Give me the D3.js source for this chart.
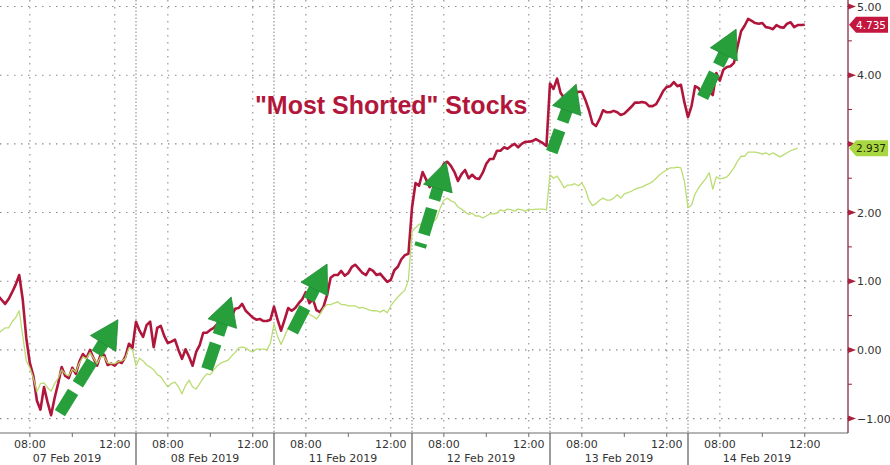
<!DOCTYPE html>
<html>
<head>
<meta charset="utf-8">
<script src="https://cdn.jsdelivr.net/npm/d3@7"></script>
<style>
  html, body { margin: 0; padding: 0; background: #fff; }
  svg { display: block; }
</style>
</head>
<body>
<svg id="chart" width="890" height="465"></svg>
<script>
// ---------------- DATA ----------------
const sessionDates = ["07 Feb 2019", "08 Feb 2019", "11 Feb 2019", "12 Feb 2019", "13 Feb 2019", "14 Feb 2019"];
const sessionOpen = "06:30";
const sessionClose = "13:00";
const barMinutes = 10;
const timeTickLabels = ["08:00", "12:00"];
const minorTimeTicks = ["10:00"];
const yTickValues = [-1, 0, 1, 2, 3, 4, 5];
const yMinorTickValues = [-0.5, 0.5, 1.5, 2.5, 3.5, 4.5];
const titleText = '"Most Shorted" Stocks';

// "Most Shorted" basket, 10-minute values per session
const shorted07 = [0.79, 0.73, 0.67, 0.74, 0.84, 0.95, 1.09, 0.73, 0.17, -0.19, -0.38, -0.74, -0.87, -0.54, -0.76, -0.95, -0.70, -0.49, -0.25, -0.38, -0.41, -0.26, -0.35, -0.17, -0.06, -0.12, 0.00, -0.12, -0.23, -0.07, -0.07, -0.22, -0.20, -0.23, -0.17, -0.19, -0.10, 0.09, 0.03];
const shorted08 = [0.41, 0.28, 0.19, 0.36, 0.41, 0.04, 0.32, 0.35, 0.20, 0.10, 0.12, 0.15, 0.00, -0.13, 0.01, -0.10, -0.23, -0.03, 0.07, 0.25, 0.25, 0.29, 0.32, 0.38, 0.36, 0.38, 0.38, 0.48, 0.60, 0.61, 0.67, 0.57, 0.52, 0.47, 0.44, 0.45, 0.42, 0.42, 0.44];
const shorted11 = [0.63, 0.44, 0.28, 0.44, 0.61, 0.57, 0.61, 0.68, 0.74, 0.84, 0.68, 0.74, 0.58, 0.55, 0.63, 0.80, 1.05, 1.09, 1.09, 1.15, 1.08, 1.12, 1.21, 1.24, 1.18, 1.12, 1.09, 1.18, 1.15, 1.09, 1.11, 1.05, 0.99, 1.02, 1.16, 1.21, 1.32, 1.38, 1.40];
const shorted12 = [2.07, 2.43, 2.39, 2.59, 2.48, 2.37, 2.47, 2.53, 2.59, 2.71, 2.74, 2.68, 2.59, 2.46, 2.56, 2.62, 2.50, 2.55, 2.50, 2.49, 2.58, 2.71, 2.78, 2.78, 2.90, 2.90, 2.95, 2.93, 2.97, 3.00, 2.95, 3.00, 3.03, 3.03, 3.04, 3.07, 3.04, 3.01, 2.97];
const shorted13 = [3.88, 3.80, 3.95, 3.74, 3.67, 3.70, 3.68, 3.71, 3.76, 3.76, 3.64, 3.49, 3.30, 3.26, 3.36, 3.49, 3.46, 3.46, 3.48, 3.46, 3.42, 3.44, 3.49, 3.54, 3.60, 3.60, 3.61, 3.60, 3.55, 3.55, 3.58, 3.67, 3.77, 3.83, 3.84, 3.90, 3.84, 3.86, 3.60];
const shorted14 = [3.39, 3.55, 3.84, 3.81, 3.73, 3.86, 3.76, 3.71, 4.03, 3.92, 4.08, 4.12, 4.13, 4.18, 4.42, 4.64, 4.72, 4.82, 4.79, 4.76, 4.75, 4.76, 4.70, 4.69, 4.67, 4.73, 4.70, 4.69, 4.75, 4.77, 4.70, 4.73, 4.73, 4.735];

// Broad market, 10-minute values per session
const market07 = [0.23, 0.28, 0.32, 0.32, 0.41, 0.47, 0.57, 0.20, -0.16, -0.26, -0.41, -0.61, -0.49, -0.48, -0.55, -0.60, -0.49, -0.41, -0.29, -0.35, -0.38, -0.28, -0.32, -0.19, -0.10, -0.13, -0.04, -0.12, -0.20, -0.10, -0.10, -0.19, -0.20, -0.20, -0.17, -0.16, -0.12, 0.03, 0.00];
const market08 = [-0.23, -0.12, -0.16, -0.22, -0.25, -0.29, -0.36, -0.39, -0.47, -0.54, -0.49, -0.47, -0.54, -0.64, -0.52, -0.44, -0.54, -0.57, -0.49, -0.41, -0.35, -0.36, -0.29, -0.23, -0.19, -0.17, -0.15, -0.09, -0.04, 0.03, 0.04, 0.03, -0.01, -0.03, 0.01, 0.01, 0.01, 0.00, 0.10];
const market11 = [0.38, 0.20, 0.08, 0.20, 0.32, 0.38, 0.39, 0.44, 0.49, 0.57, 0.52, 0.49, 0.45, 0.52, 0.61, 0.66, 0.66, 0.68, 0.70, 0.66, 0.66, 0.64, 0.64, 0.64, 0.61, 0.62, 0.60, 0.58, 0.57, 0.57, 0.55, 0.58, 0.54, 0.64, 0.71, 0.77, 0.82, 0.87, 1.02];
const market12 = [1.72, 1.78, 1.83, 1.83, 1.82, 1.82, 1.86, 1.92, 2.07, 2.18, 2.21, 2.17, 2.15, 2.08, 2.05, 2.01, 1.97, 1.99, 1.95, 1.95, 1.92, 1.95, 1.98, 1.98, 1.99, 2.04, 2.02, 2.05, 2.04, 2.02, 2.05, 2.04, 2.02, 2.05, 2.04, 2.05, 2.05, 2.05, 2.04];
const market13 = [2.55, 2.50, 2.53, 2.45, 2.36, 2.40, 2.40, 2.42, 2.39, 2.43, 2.34, 2.18, 2.10, 2.13, 2.18, 2.21, 2.18, 2.18, 2.21, 2.26, 2.21, 2.27, 2.29, 2.31, 2.34, 2.36, 2.37, 2.40, 2.42, 2.45, 2.50, 2.55, 2.59, 2.62, 2.65, 2.65, 2.66, 2.65, 2.45];
const market14 = [2.07, 2.11, 2.27, 2.36, 2.43, 2.49, 2.58, 2.34, 2.52, 2.49, 2.50, 2.52, 2.58, 2.65, 2.75, 2.82, 2.82, 2.88, 2.88, 2.88, 2.87, 2.85, 2.87, 2.84, 2.87, 2.84, 2.81, 2.84, 2.87, 2.90, 2.92, 2.937];

const shortedSessions = [shorted07, shorted08, shorted11, shorted12, shorted13, shorted14];
const marketSessions = [market07, market08, market11, market12, market13, market14];

// Annotation arrows (session index, clock time, value)
const arrowTails = [[0, "09:25", -0.92], [1, "09:50", -0.29], [2, "07:18", 0.22], [3, "06:53", 1.50], [4, "06:35", 2.88], [5, "07:04", 3.60]];
const arrowTips  = [[0, "12:09", 0.44], [1, "10:59", 0.77], [2, "09:00", 1.25], [3, "08:06", 2.74], [4, "07:44", 3.87], [5, "08:46", 4.67]];

// ---------------- LAYOUT ----------------
const W = 890, H = 465;
const plotRight = 848, plotBottom = 433;
const RED = "#b0163b", GREEN_LINE = "#b7da6c", ARROW = "#27a03c";
const FONT = "'DejaVu Sans', Verdana, sans-serif";

const clock = s => { const [h, m] = s.split(":").map(Number); return h + m / 60; };
const sessionLen = clock(sessionClose) - clock(sessionOpen);
const tIndex = (k, s) => k * sessionLen + (clock(s) - clock(sessionOpen));

const x = d3.scaleLinear().domain([0, sessionDates.length * sessionLen]).range([-2, 826]);
const y = d3.scaleLinear().domain([-1.21, 5.095]).range([plotBottom, 0]);

const toPoints = sessions => sessions.flatMap((vals, k) =>
  vals.map((v, i) => ({ t: k * sessionLen + i * barMinutes / 60, v })));
const shortedPts = toPoints(shortedSessions);
const marketPts = toPoints(marketSessions);

const svg = d3.select("#chart");
svg.append("rect").attr("width", W).attr("height", H).attr("fill", "#fff");

svg.append("defs").append("clipPath").attr("id", "plotClip")
  .append("rect").attr("x", 0).attr("y", 0).attr("width", plotRight).attr("height", plotBottom);

// grid - horizontal
const grid = svg.append("g");
grid.selectAll("line.h").data(yTickValues).join("line")
  .attr("x1", 0).attr("x2", plotRight)
  .attr("y1", d => y(d)).attr("y2", d => y(d))
  .attr("stroke", "#8c8c8c").attr("stroke-width", 1.1).attr("stroke-dasharray", "1.5,5.5");

// grid - vertical at time ticks
const majorTs = [], minorTs = [];
sessionDates.forEach((d, k) => {
  timeTickLabels.forEach(lbl => majorTs.push({ t: tIndex(k, lbl), lbl }));
  minorTimeTicks.forEach(lbl => minorTs.push(tIndex(k, lbl)));
});
grid.selectAll("line.v").data(majorTs).join("line")
  .attr("x1", d => x(d.t)).attr("x2", d => x(d.t))
  .attr("y1", 0).attr("y2", plotBottom)
  .attr("stroke", "#8c8c8c").attr("stroke-width", 1.1).attr("stroke-dasharray", "1.5,5.5");

// session separators
const sepTs = d3.range(1, sessionDates.length).map(k => k * sessionLen);
grid.selectAll("line.s").data(sepTs).join("line")
  .attr("x1", d => x(d)).attr("x2", d => x(d))
  .attr("y1", 0).attr("y2", plotBottom)
  .attr("stroke", "#8c8c8c").attr("stroke-width", 1.1).attr("stroke-dasharray", "1.5,2");

// lines
const line = d3.line().x(d => x(d.t)).y(d => y(d.v));
const plot = svg.append("g").attr("clip-path", "url(#plotClip)");
plot.append("path").datum(shortedPts).attr("d", line)
  .attr("fill", "none").attr("stroke", RED).attr("stroke-width", 2.6)
  .attr("stroke-linejoin", "round");
plot.append("path").datum(marketPts).attr("d", line)
  .attr("fill", "none").attr("stroke", GREEN_LINE).attr("stroke-width", 1.3)
  .attr("stroke-linejoin", "round").attr("opacity", 0.95);

// title
svg.append("text").attr("x", 255).attr("y", 114)
  .attr("font-family", "'Liberation Sans', Arial, sans-serif")
  .attr("font-weight", "bold").attr("font-size", 25).attr("fill", "#b3163b")
  .text(titleText);

// arrows
const arrowG = svg.append("g");
arrowTails.forEach((tail, i) => {
  const tip = arrowTips[i];
  const p0 = [x(tIndex(tail[0], tail[1])), y(tail[2])];
  const p1 = [x(tIndex(tip[0], tip[1])), y(tip[2])];
  const dx = p1[0] - p0[0], dy = p1[1] - p0[1], len = Math.hypot(dx, dy);
  const ux = dx / len, uy = dy / len, nx = -uy, ny = ux;
  const headLen = 28, headHalf = 15;
  const bx = p1[0] - ux * headLen, by = p1[1] - uy * headLen;
  arrowG.append("line")
    .attr("x1", bx + ux * 2).attr("y1", by + uy * 2).attr("x2", p0[0]).attr("y2", p0[1])
    .attr("stroke", ARROW).attr("stroke-width", 12)
    .attr("stroke-dasharray", "14,9,27,9,27,9,27,9,27,9");
  arrowG.append("path")
    .attr("d", `M${p1[0]},${p1[1]}L${bx + nx * headHalf},${by + ny * headHalf}L${bx - nx * headHalf},${by - ny * headHalf}Z`)
    .attr("fill", ARROW).attr("stroke", "#1f8a33").attr("stroke-width", 0.8).attr("stroke-linejoin", "round");
});

// bottom axis
const axB = svg.append("g");
axB.append("line").attr("x1", 0).attr("x2", plotRight).attr("y1", plotBottom).attr("y2", plotBottom)
  .attr("stroke", "#6d6d6d").attr("stroke-width", 1.2);
axB.selectAll("line.mt").data(majorTs.map(d => d.t).concat(minorTs)).join("line")
  .attr("x1", d => x(d)).attr("x2", d => x(d)).attr("y1", plotBottom).attr("y2", plotBottom + 4)
  .attr("stroke", "#6d6d6d").attr("stroke-width", 1);
axB.selectAll("line.sep").data(sepTs).join("line")
  .attr("x1", d => x(d)).attr("x2", d => x(d)).attr("y1", plotBottom).attr("y2", H)
  .attr("stroke", "#5a5a5a").attr("stroke-width", 1.2);
axB.selectAll("text.tm").data(majorTs).join("text")
  .attr("x", d => x(d.t)).attr("y", 448).attr("text-anchor", "middle")
  .attr("font-family", FONT).attr("font-size", 11).attr("fill", "#333")
  .text(d => d.lbl);
axB.selectAll("text.dt").data(sessionDates).join("text")
  .attr("x", (d, k) => x(k * sessionLen + sessionLen / 2)).attr("y", 462).attr("text-anchor", "middle")
  .attr("font-family", FONT).attr("font-size", 11).attr("fill", "#333")
  .text(d => d);

// right axis
const lastShorted = shorted14[shorted14.length - 1];
const lastMarket = market14[market14.length - 1];
const tags = [
  { v: lastShorted, fill: "#c4173f", text: "#fff" },
  { v: lastMarket, fill: "#a9d741", text: "#1d2a05" }
];
const axR = svg.append("g");
axR.append("line").attr("x1", plotRight).attr("x2", plotRight).attr("y1", 0).attr("y2", plotBottom)
  .attr("stroke", "#8e2741").attr("stroke-width", 1.3);
axR.selectAll("path.tk").data(yTickValues).join("path")
  .attr("d", d => `M${plotRight},${y(d) - 3}L${plotRight + 8},${y(d)}L${plotRight},${y(d) + 3}Z`)
  .attr("fill", "#a8223f");
axR.selectAll("line.mn").data(yMinorTickValues).join("line")
  .attr("x1", plotRight).attr("x2", plotRight + 4).attr("y1", d => y(d)).attr("y2", d => y(d))
  .attr("stroke", "#8e2741").attr("stroke-width", 1);
axR.selectAll("text.yl").data(yTickValues.filter(v => tags.every(t => Math.abs(y(v) - y(t.v)) > 10))).join("text")
  .attr("x", plotRight + 9).attr("y", d => y(d) + 4)
  .attr("font-family", FONT).attr("font-size", 11).attr("fill", "#333")
  .text(d => d3.format(".2f")(d));

// last-value tags
tags.forEach(tg => {
  const ty = y(tg.v);
  axR.append("path")
    .attr("d", `M${plotRight + 1},${ty}L${plotRight + 8},${ty - 8}L888,${ty - 8}L888,${ty + 8}L${plotRight + 8},${ty + 8}Z`)
    .attr("fill", tg.fill);
  axR.append("text").attr("x", 871).attr("y", ty + 4).attr("text-anchor", "middle")
    .attr("font-family", FONT).attr("font-size", 10.5).attr("fill", tg.text)
    .text(d3.format(".3f")(tg.v));
});
</script>
</body>
</html>
